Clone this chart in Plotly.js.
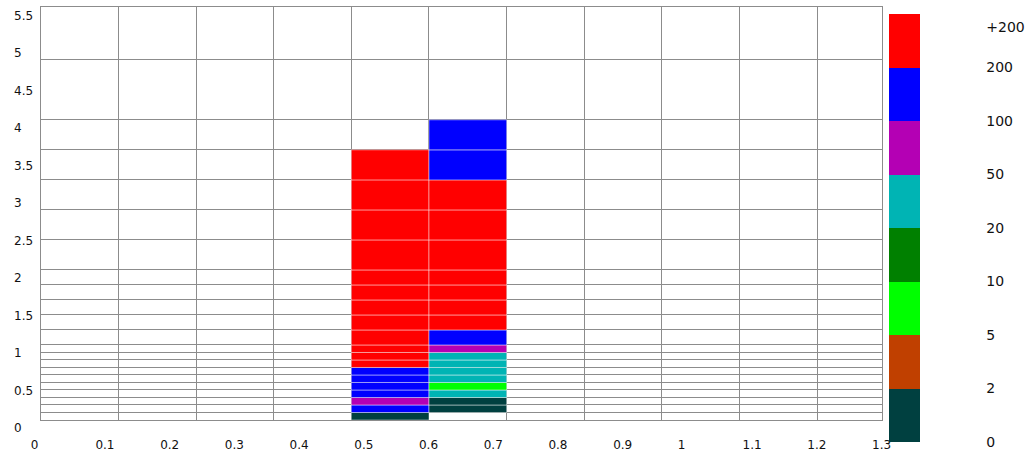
<!DOCTYPE html>
<html>
<head>
<meta charset="utf-8">
<script src="https://cdn.plot.ly/plotly-3.0.1.min.js"></script>
<style>html,body{margin:0;padding:0;background:#fff;}#chart{width:1031px;height:454px;}</style>
</head>
<body>
<div id="chart"></div>
<script>
// ---- data ----
const xEdges = [0, 0.12, 0.24, 0.36, 0.48, 0.60, 0.72, 0.84, 0.96, 1.08, 1.20, 1.30];
const yEdges = [0, 0.1, 0.2, 0.3, 0.4, 0.5, 0.6, 0.7, 0.8, 0.9, 1.0, 1.2, 1.4, 1.6, 1.8, 2.0, 2.4, 2.8, 3.2, 3.6, 4.0, 4.8, 5.5];
const classLabels = ['0', '2', '5', '10', '20', '50', '100', '200', '+200'];
const classColors = ['#004040', '#c04000', '#00ff00', '#008000', '#00b4b4', '#b400b4', '#0000ff', '#ff0000'];
// class index of each row (bottom-up), null = empty cell
const columnIndex = [4, 5];
const classesCol048 = [0, 6, 5, 6, 6, 6, 6, 7, 7, 7, 7, 7, 7, 7, 7, 7, 7, 7, 7, null, null, null];
const classesCol060 = [null, 0, 0, 4, 2, 4, 4, 4, 4, 5, 6, 7, 7, 7, 7, 7, 7, 7, 6, 6, null, null];
const xTickLabels = ['0', '0.1', '0.2', '0.3', '0.4', '0.5', '0.6', '0.7', '0.8', '0.9', '1', '1.1', '1.2', '1.3'];
const yTickLabels = ['0', '0.5', '1', '1.5', '2', '2.5', '3', '3.5', '4', '4.5', '5', '5.5'];

// ---- build ----
const W = 1031, H = 454;
const fx = p => p / W, fy = p => 1 - p / H;
const GRID = '#8c8c8c';
const FONT = 'DejaVu Sans';
const columnClasses = [classesCol048, classesCol060];

const bx = [], bw = [], bbase = [], bh = [], bc = [];
columnIndex.forEach((ci, k) => {
  columnClasses[k].forEach((cls, r) => {
    if (cls === null) return;
    bx.push((xEdges[ci] + xEdges[ci + 1]) / 2);
    bw.push(xEdges[ci + 1] - xEdges[ci]);
    bbase.push(yEdges[r]);
    bh.push(yEdges[r + 1] - yEdges[r]);
    bc.push(cls + 0.5);
  });
});

const nC = classColors.length;
const colorscale = [];
classColors.forEach((c, i) => { colorscale.push([i / nC, c]); colorscale.push([(i + 1) / nC, c]); });
const cbVals = classLabels.map((_, i) => i);
cbVals[nC] = nC - 0.24;

const traces = [{
  type: 'bar', x: bx, y: bh, base: bbase, width: bw,
  marker: {
    color: bc, colorscale: colorscale, cmin: 0, cmax: nC, showscale: true,
    line: {color: 'rgba(255,255,255,0.45)', width: 1},
    colorbar: {
      x: fx(889), xanchor: 'left', xpad: 0, ypad: 0,
      y: fy((14 + 441.7) / 2), yanchor: 'middle',
      len: 427.7, lenmode: 'pixels', thickness: 31, thicknessmode: 'pixels',
      outlinewidth: 0, tickmode: 'array', tickvals: cbVals, ticktext: classLabels,
      ticks: 'outside', ticklen: 64, tickcolor: 'rgba(0,0,0,0)',
      tickfont: {family: FONT, size: 14, color: '#111'}
    }
  },
  hoverinfo: 'skip', showlegend: false
}, {
  type: 'scatter', mode: 'markers', x: [0.5], y: [0.5], xaxis: 'x2', yaxis: 'y2',
  marker: {opacity: 0}, hoverinfo: 'skip', showlegend: false
}];

const layout = {
  width: W, height: H, autosize: false,
  margin: {l: 0, r: 0, t: 0, b: 0, pad: 0},
  paper_bgcolor: '#ffffff', plot_bgcolor: '#ffffff',
  showlegend: false, barmode: 'overlay',
  font: {family: FONT, size: 12, color: '#111'},
  xaxis: {
    domain: [fx(40.7), fx(882)], range: [0, 1.3], tickmode: 'array', tickvals: xEdges,
    showticklabels: false, ticks: '', showgrid: true, gridcolor: GRID, gridwidth: 1,
    zeroline: false, showline: true, linecolor: GRID, linewidth: 1, mirror: true, fixedrange: true
  },
  yaxis: {
    domain: [fy(420), fy(7.3)], range: [0, 5.5], tickmode: 'array', tickvals: yEdges,
    showticklabels: false, ticks: '', showgrid: true, gridcolor: GRID, gridwidth: 1,
    zeroline: false, showline: true, linecolor: GRID, linewidth: 1, mirror: true, fixedrange: true
  },
  xaxis2: {
    overlaying: 'x', anchor: 'y', side: 'bottom', range: [0, 1.3],
    tickmode: 'array', tickvals: xTickLabels.map(Number), ticktext: xTickLabels,
    showgrid: false, zeroline: false, showline: false, ticks: '',
    ticklabelposition: 'outside right', ticklabelshift: -10, ticklabelstandoff: 16,
    ticklabeloverflow: 'allow', tickfont: {family: FONT, size: 12, color: '#111'}
  },
  yaxis2: {
    overlaying: 'y', anchor: 'free', position: fx(10), side: 'left', range: [0, 5.5],
    tickmode: 'array', tickvals: yTickLabels.map(Number), ticktext: yTickLabels,
    showgrid: false, zeroline: false, showline: false, ticks: '',
    ticklabelposition: 'inside', ticklabeloverflow: 'allow', ticklabelshift: 8,
    tickfont: {family: FONT, size: 12, color: '#111'}
  }
};

Plotly.newPlot('chart', traces, layout, {staticPlot: true, displayModeBar: false});
</script>
</body>
</html>
